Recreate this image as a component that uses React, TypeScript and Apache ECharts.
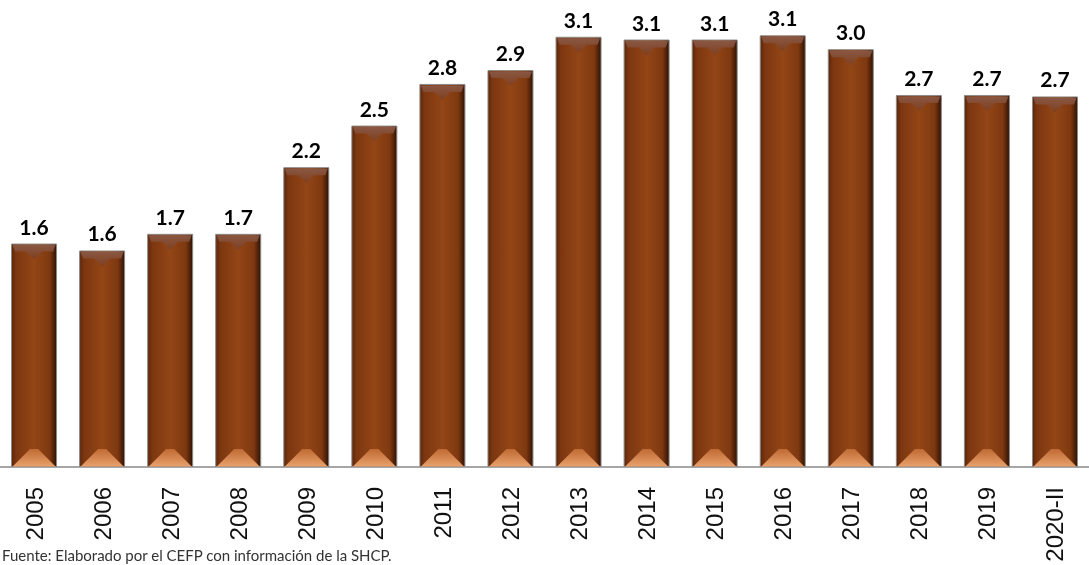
import React, { useEffect, useRef } from "react";
import * as echarts from "echarts";

const categories = ["2005", "2006", "2007", "2008", "2009", "2010", "2011", "2012", "2013", "2014", "2015", "2016", "2017", "2018", "2019", "2020-II"];
const values = [1.61, 1.56, 1.68, 1.68, 2.16, 2.46, 2.76, 2.86, 3.1, 3.08, 3.08, 3.11, 3.01, 2.68, 2.68, 2.67];
const sourceNote = "Fuente: Elaborado por el CEFP con información de la SHCP.";

export default function App() {
  const ref = useRef<HTMLDivElement>(null);
  useEffect(() => {
    if (!ref.current) return;
    const chart = echarts.init(ref.current, undefined, { renderer: "svg" });
    const bodyGrad = new echarts.graphic.LinearGradient(0, 0, 1, 0, [
      { offset: 0, color: "#5a260a" },
      { offset: 0.1, color: "#7c3610" },
      { offset: 0.5, color: "#934616" },
      { offset: 0.85, color: "#7e3810" },
      { offset: 1, color: "#2e1204" },
    ]);
    chart.setOption({
      animation: false,
      grid: { left: -3, right: -2, top: 9, bottom: 98, containLabel: false },
      xAxis: {
        type: "category",
        data: categories,
        axisLine: { lineStyle: { color: "#a6a6a6", width: 2 } },
        axisTick: { show: false },
        axisLabel: {
          rotate: 90,
          margin: 20,
          fontSize: 24,
          color: "#111",
          fontFamily: "'Liberation Sans', Arial, sans-serif",
        },
      },
      yAxis: { type: "value", min: 0, max: 3.3, show: false, splitLine: { show: false } },
      series: [
        {
          type: "bar",
          data: values,
          barWidth: 46,
          itemStyle: { color: bodyGrad, borderColor: "#8e8a88", borderWidth: 1 },
          label: {
            show: true,
            position: "top",
            distance: 7,
            fontSize: 21,
            fontWeight: "bold",
            color: "#000",
            fontFamily: "Lato, sans-serif",
            formatter: (p: any) => (p.value as number).toFixed(1),
          },
          z: 2,
        },
        {
          type: "custom",
          data: values.map((v, i) => [i, v]),
          encode: { x: 0, y: 1 },
          z: 3,
          silent: true,
          renderItem: (params: any, api: any) => {
            const i = api.value(0);
            const v = api.value(1);
            const top = api.coord([i, v]);
            const bot = api.coord([i, 0]);
            const w = 46;
            const x0 = top[0] - w / 2;
            const x1 = top[0] + w / 2;
            const cx = top[0];
            const yt = top[1];
            const yb = bot[1];
            return {
              type: "group",
              children: [
                {
                  type: "polygon",
                  shape: { points: [[x0 + 1.5, yt + 1.5], [x1 - 1.5, yt + 1.5], [x1 - 4, yt + 8], [cx + 8, yt + 8], [cx, yt + 16], [cx - 8, yt + 8], [x0 + 4, yt + 8]] },
                  style: {
                    fill: new echarts.graphic.LinearGradient(0, 0, 0, 1, [
                      { offset: 0, color: "#8a5a48" },
                      { offset: 1, color: "#7c3e20" },
                    ]),
                    opacity: 0.9,
                  },
                },
                {
                  type: "polygon",
                  shape: { points: [[x0 + 1.5, yb - 0.5], [x1 - 1.5, yb - 0.5], [cx + 4, yb - 18], [cx - 4, yb - 18]] },
                  style: {
                    fill: new echarts.graphic.LinearGradient(0, 1, 0, 0, [
                      { offset: 0, color: "#e8a06a" },
                      { offset: 1, color: "#c06a34" },
                    ]),
                  },
                },
              ],
            };
          },
        },
      ],
      graphic: [
        {
          type: "text",
          left: 2,
          top: 547,
          style: {
            text: sourceNote,
            fontSize: 15,
            fill: "#333",
            fontFamily: "Lato, sans-serif",
          },
        },
      ],
    });
    return () => chart.dispose();
  }, []);
  return <div ref={ref} style={{ position: "fixed", left: 0, top: 0, width: 1089, height: 565 }} />;
}
